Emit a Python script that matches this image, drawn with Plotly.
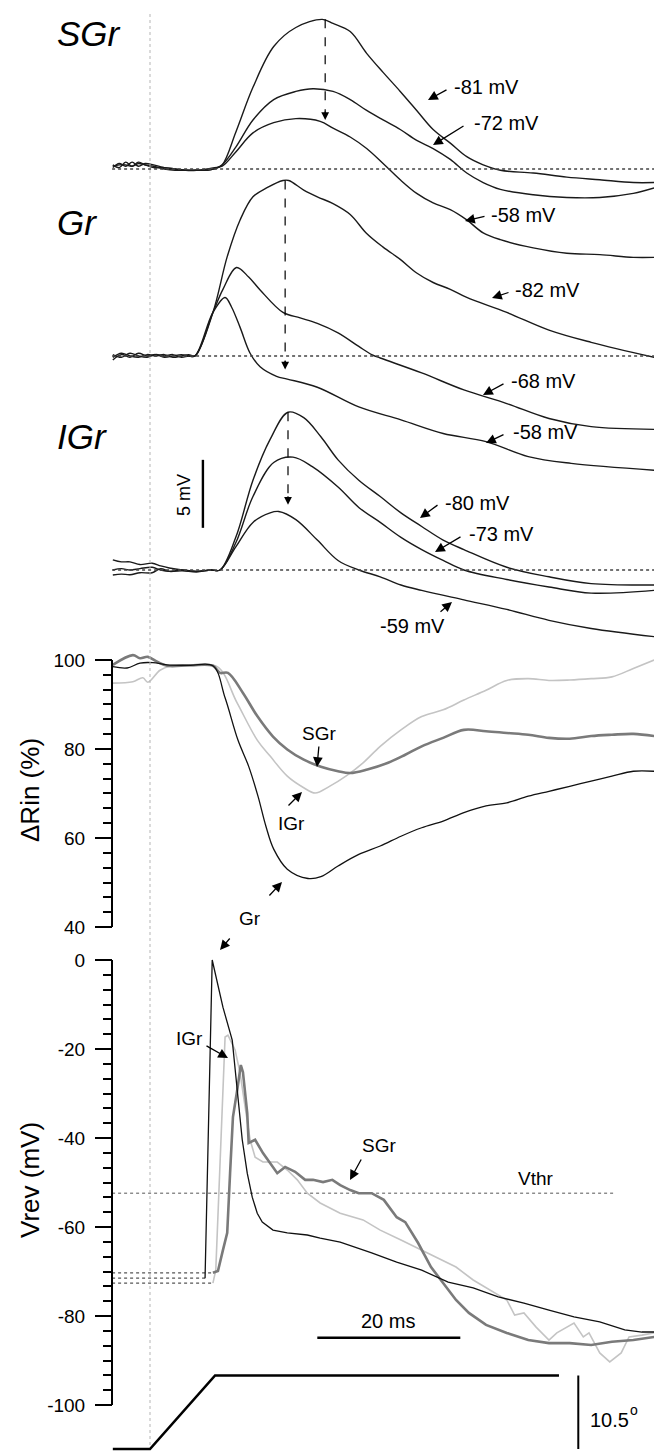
import plotly.graph_objects as go

W, H = 654, 1452
FONT = "Liberation Sans, Arial, Helvetica, sans-serif"

# ---------------- DATA ----------------
# time in ms relative to stimulus onset; potentials in mV relative to baseline
PRE_T = [-5.2, -4.3, -3.4, -2.5, -1.6, -0.7, 0.5, 2.0, 3.5, 5.0, 6.5, 8.0, 9.0]

sgr81_t = PRE_T + [10.1, 12.0, 14.4, 17.3, 20.4, 24.1, 25.6, 28.0, 30.3, 32.6, 35.0, 37.3, 39.6, 42.0, 44.3, 46.6, 49.0, 53.6, 58.3, 62.9, 67.6, 70.5]
sgr81_v = [0.3, 0.1, 0.5, 0.2, 0.4, 0.3, 0.2, 0.0, -0.1, -0.1, -0.1, -0.1, 0.0,
           0.3, 2.7, 6.0, 9.0, 10.4, 11.0, 10.7, 10.1, 8.5, 7.1, 5.7, 4.3, 2.9, 1.9, 0.9, 0.3, -0.1, -0.3, -0.6, -0.8, -1.0, -1.0]
sgr72_t = PRE_T + [10.1, 12.0, 14.4, 17.3, 20.4, 22.8, 25.6, 28.0, 30.3, 32.6, 35.0, 37.3, 39.6, 42.0, 44.3, 46.6, 49.0, 53.6, 58.3, 62.9, 67.6, 70.5]
sgr72_v = [0.1, 0.4, 0.2, 0.5, 0.2, 0.4, 0.3, 0.1, 0.0, -0.1, -0.1, -0.1, 0.0,
           0.3, 1.6, 3.6, 5.1, 5.7, 5.9, 5.7, 5.1, 4.3, 3.6, 2.9, 2.1, 1.5, 0.7, -0.3, -1.0, -1.5, -1.9, -2.1, -2.1, -1.8, -1.4]
sgr58_t = PRE_T + [10.1, 12.0, 14.4, 17.3, 20.4, 23.8, 25.6, 28.0, 30.3, 32.6, 35.0, 37.3, 39.6, 42.0, 44.3, 46.6, 49.0, 53.6, 58.3, 62.9, 67.6, 70.5]
sgr58_v = [0.2, 0.3, 0.3, 0.2, 0.5, 0.3, 0.1, 0.1, 0.0, -0.1, -0.1, 0.0, 0.1,
           0.2, 1.25, 2.65, 3.4, 3.7, 3.5, 3.0, 2.35, 1.5, 0.4, -0.8, -1.8, -2.5, -3.0, -3.75, -4.7, -5.2, -5.8, -6.2, -6.3, -6.5, -6.5]

GR_PRE_T = [-5.2, -4.0, -2.8, -1.6, -0.4, 0.8, 2.0, 3.2, 4.4, 5.4, 6.3]
gr82_t = GR_PRE_T + [8.8, 10.8, 12.6, 14.4, 16.3, 18.6, 19.4, 21.5, 23.4, 25.6, 28.0, 30.3, 32.6, 35.0, 37.3, 39.6, 42.0, 44.3, 49.9, 55.8, 61.7, 70.5]
gr82_v = [-0.3, 0.1, -0.1, 0.2, 0.0, 0.1, -0.1, 0.0, 0.1, 0.0, 0.0,
          3.2, 7.3, 10.0, 11.7, 12.35, 12.9, 12.9, 12.2, 11.7, 11.2, 10.4, 9.0, 8.0, 7.1, 6.1, 5.4, 4.9, 4.3, 3.2, 1.9, 1.0, -0.1]
gr68_t = GR_PRE_T + [8.8, 10.2, 12.1, 13.8, 15.4, 18.6, 21.0, 23.4, 26.3, 29.2, 31.0, 32.2, 38.0, 43.9, 49.9, 55.8, 61.7, 70.5]
gr68_v = [-0.1, 0.2, 0.0, -0.1, 0.1, 0.0, 0.1, -0.1, 0.0, 0.1, 0.0,
          3.2, 4.9, 6.5, 5.8, 4.85, 3.2, 2.8, 2.4, 1.7, 0.7, 0.1, -0.15, -1.25, -2.5, -3.5, -4.6, -5.2, -5.4]
gr58_t = GR_PRE_T + [8.8, 10.5, 11.4, 12.6, 14.0, 15.4, 17.7, 19.2, 23.4, 29.2, 35.1, 41.0, 47.0, 52.9, 58.9, 70.5]
gr58_v = [0.1, -0.1, 0.2, 0.0, -0.1, 0.1, 0.0, 0.1, -0.1, 0.0, 0.0,
          3.2, 4.3, 3.6, 2.1, 0.2, -0.8, -1.5, -1.7, -2.3, -3.75, -4.7, -5.7, -6.3, -7.4, -7.9, -8.4]

IGR_PRE_T = [-5.2, -4.0, -2.8, -1.4, 0.3, 1.5, 2.7, 4.5, 6.5, 8.5, 9.8]
igr80_t = IGR_PRE_T + [12.0, 14.4, 16.8, 19.3, 21.5, 23.9, 26.3, 29.2, 32.2, 35.1, 38.0, 41.0, 43.9, 49.9, 55.8, 61.7, 70.5]
igr80_v = [0.75, 0.6, 0.6, 0.4, 0.5, 0.3, 0.15, 0.0, -0.1, 0.0, 0.0,
           2.4, 6.6, 9.6, 11.6, 11.2, 9.8, 8.1, 6.6, 5.4, 4.2, 3.2, 2.2, 1.5, 0.2, -0.5, -1.0, -1.1]
igr73_t = IGR_PRE_T + [12.0, 14.4, 17.3, 20.0, 22.7, 26.3, 29.2, 32.2, 35.1, 38.0, 41.0, 43.9, 49.9, 55.8, 61.7, 70.5]
igr73_v = [0.0, 0.1, 0.0, 0.1, 0.2, 0.0, -0.1, 0.0, -0.1, 0.0, 0.0,
           2.0, 5.4, 7.9, 8.3, 7.6, 6.1, 4.6, 3.5, 2.4, 1.5, 0.7, 0.0, -0.7, -1.25, -1.7, -1.5]
igr59_t = IGR_PRE_T + [12.0, 14.4, 16.8, 18.0, 20.4, 23.4, 26.3, 29.2, 32.2, 35.1, 38.0, 43.9, 49.9, 55.8, 61.7, 70.5]
igr59_v = [-0.37, -0.3, -0.35, -0.2, -0.2, 0.1, -0.1, -0.05, -0.15, 0.0, 0.0,
           1.7, 3.5, 4.2, 4.3, 3.7, 2.2, 0.7, 0.0, -0.5, -1.1, -1.5, -2.2, -2.9, -3.7, -4.3, -4.9]

# Delta Rin (%)
rin_gr_t = [-5.2, -3.2, -1.4, 0.4, 2.4, 5.6, 8.8, 10.5, 12.3, 13.8, 15.1, 16.2, 17.3, 19.2, 22.1, 23.9, 26.3, 29.2, 32.2, 35.1, 38.0, 41.0, 43.9, 47.0, 49.9, 52.9, 55.8, 58.7, 61.7, 64.6, 67.6, 70.5]
rin_gr_v = [98.5, 98.2, 99.3, 99.4, 98.9, 98.8, 98.7, 91.5, 82.0, 76.1, 69.4, 62.7, 57.5, 53.0, 50.9, 51.3, 53.7, 56.3, 58.2, 60.4, 62.3, 63.8, 65.7, 67.2, 67.9, 69.4, 70.5, 71.6, 72.8, 73.9, 75.0, 75.0]
rin_sgr_t = [-5.2, -2.4, -1.4, -0.3, 1.0, 2.4, 5.6, 8.8, 9.8, 10.9, 13.0, 15.0, 17.2, 19.2, 21.5, 23.9, 26.3, 28.0, 30.4, 33.3, 35.7, 38.0, 41.0, 43.9, 47.0, 49.9, 52.9, 55.8, 58.7, 61.7, 64.6, 67.6, 70.5]
rin_sgr_v = [98.9, 101.1, 100.4, 100.7, 99.6, 98.7, 98.8, 98.7, 97.1, 97.1, 92.6, 87.4, 82.8, 79.9, 77.6, 76.0, 75.0, 74.6, 75.4, 76.9, 78.7, 80.6, 82.5, 84.3, 84.0, 83.6, 83.2, 82.5, 82.3, 82.9, 83.2, 83.4, 82.9]
rin_igr_t = [-5.2, -2.4, -1.0, -0.3, 1.4, 2.8, 5.6, 9.4, 12.2, 15.0, 16.8, 19.2, 21.5, 23.1, 25.1, 27.4, 29.8, 32.2, 35.1, 38.0, 41.0, 43.9, 47.0, 49.9, 52.9, 55.8, 58.7, 61.7, 64.6, 67.6, 70.5]
rin_igr_v = [94.8, 95.1, 96.0, 95.0, 97.7, 98.6, 98.7, 98.5, 90.3, 82.0, 78.4, 73.9, 71.3, 70.1, 71.6, 73.9, 76.9, 80.6, 84.3, 87.3, 88.8, 91.0, 93.2, 95.4, 95.8, 95.4, 95.5, 95.8, 96.2, 98.1, 100.0]

# Vrev (mV)
vrev_gr_t = [7.7, 8.7, 10.2, 11.5, 12.2, 12.9, 13.6, 14.3, 15.0, 15.7, 17.2, 19.2, 22.0, 23.8, 26.6, 31.0, 34.5, 38.0, 41.7, 45.2, 48.7, 52.3, 55.8, 59.3, 62.9, 66.4, 68.8, 70.5]
vrev_gr_v = [-71.5, 0.0, -10.6, -18.0, -29.2, -40.4, -47.9, -53.3, -56.9, -58.9, -60.7, -61.3, -61.8, -62.5, -63.4, -65.8, -67.9, -69.7, -72.4, -73.7, -75.7, -77.1, -78.7, -80.2, -81.3, -83.1, -83.6, -83.6]
vrev_igr_t = [8.8, 9.2, 10.5, 10.9, 11.9, 12.6, 13.3, 14.0, 14.7, 15.8, 17.8, 19.2, 20.6, 22.0, 23.8, 26.6, 29.8, 32.2, 35.1, 38.0, 40.4, 42.8, 45.2, 47.6, 49.9, 51.0, 52.3, 54.0, 55.8, 56.9, 59.3, 60.6, 61.4, 62.9, 64.3, 65.9, 67.0, 68.8, 70.5]
vrev_igr_v = [-72.6, -69.7, -17.3, -16.9, -20.2, -25.4, -33.0, -40.4, -44.3, -45.4, -45.4, -47.2, -49.4, -52.4, -54.6, -56.9, -58.4, -60.7, -62.9, -65.2, -67.0, -69.0, -71.9, -74.2, -76.4, -79.8, -79.3, -82.5, -85.4, -83.8, -81.6, -84.7, -83.8, -88.3, -90.3, -88.3, -84.7, -84.3, -83.8]
vrev_sgr_t = [8.8, 9.5, 10.2, 10.8, 11.2, 11.6, 12.2, 12.7, 13.0, 13.6, 13.8, 14.7, 15.8, 17.8, 18.9, 20.3, 21.7, 22.8, 24.2, 25.5, 26.6, 28.0, 29.2, 31.0, 32.7, 34.5, 35.7, 37.5, 39.3, 41.0, 42.8, 44.6, 47.0, 49.9, 52.9, 55.8, 58.7, 61.7, 64.6, 67.6, 70.5]
vrev_sgr_v = [-70.3, -69.9, -65.2, -61.3, -47.9, -35.3, -29.2, -23.6, -25.2, -34.4, -41.1, -40.4, -43.4, -47.9, -46.5, -47.6, -49.4, -49.4, -49.9, -49.4, -50.6, -51.7, -52.4, -52.4, -53.9, -57.8, -58.9, -63.6, -69.0, -72.6, -76.4, -79.3, -82.0, -83.8, -85.4, -86.1, -86.1, -86.5, -85.8, -85.4, -84.7]
VREST = {"Gr": -71.5, "SGr": -70.3, "IGr": -72.6}
VTHR = -52.4

# stimulus (deg)
stim_t = [-5.2, 0.0, 9.1, 57.2]
stim_deg = [0.0, 0.0, 10.5, 10.5]

RIN_TICKS = [40, 60, 80, 100]
RIN_MINOR = [43.33, 46.67, 50, 53.33, 56.67, 63.33, 66.67, 70, 73.33, 76.67, 83.33, 86.67, 90, 93.33, 96.67]
VREV_TICKS = [-100, -80, -60, -40, -20, 0]
VREV_TICKTEXT = ["-100", "-80", "-60", "-40", "-20", "0"]
VREV_MINOR = [-96.67, -93.33, -90, -86.67, -83.33, -76.67, -73.33, -70, -66.67, -63.33, -56.67, -53.33, -50,
              -46.67, -43.33, -36.67, -33.33, -30, -26.67, -23.33, -16.67, -13.33, -10, -6.67, -3.33]

# ---------------- LAYOUT CONSTANTS ----------------
OFF = {"SGr": 29.49, "Gr": 15.74, "IGr": 0.0}   # vertical stacking of the voltage groups
T0, T1 = -150 / 7.15, 504 / 7.15
AX_X = 112 / W

fig = go.Figure()


def line(t, v, yax, color="black", width=1.3, shape="linear", dash=None):
    fig.add_trace(go.Scatter(x=t, y=v, xaxis="x", yaxis=yax, mode="lines",
                             line=dict(color=color, width=width, shape=shape, dash=dash),
                             hoverinfo="skip", showlegend=False))


for grp, series in [("SGr", [(sgr81_t, sgr81_v), (sgr72_t, sgr72_v), (sgr58_t, sgr58_v)]),
                    ("Gr", [(gr82_t, gr82_v), (gr68_t, gr68_v), (gr58_t, gr58_v)]),
                    ("IGr", [(igr80_t, igr80_v), (igr73_t, igr73_v), (igr59_t, igr59_v)])]:
    for t, v in series:
        line(t, [OFF[grp] + x for x in v], "y", color="#1a1a1a", width=1.4, shape="spline")

line(rin_igr_t, rin_igr_v, "y2", color="#c4c4c4", width=1.6, shape="spline")
line(rin_sgr_t, rin_sgr_v, "y2", color="#7a7a7a", width=2.6, shape="spline")
line(rin_gr_t, rin_gr_v, "y2", color="#111111", width=1.3, shape="spline")

# resting-level dotted lines of Vrev
for grp, tt in [("SGr", vrev_sgr_t[0]), ("Gr", vrev_gr_t[0]), ("IGr", vrev_igr_t[0])]:
    line([-5.3, tt], [VREST[grp], VREST[grp]], "y3", color="#555555", width=1.2, dash="dot")
line([-5.3, 64.9], [VTHR, VTHR], "y3", color="#555555", width=1.0, dash="dot")

line(vrev_igr_t, vrev_igr_v, "y3", color="#c4c4c4", width=1.6)
line(vrev_sgr_t, vrev_sgr_v, "y3", color="#7a7a7a", width=2.6)
line(vrev_gr_t, vrev_gr_v, "y3", color="#111111", width=1.3)

line(stim_t, stim_deg, "y4", color="black", width=2.6)

shapes = []
# stimulus-onset reference line
shapes.append(dict(type="line", xref="x", yref="paper", x0=0, x1=0, y0=1 - 1445 / H, y1=1 - 12 / H,
                   line=dict(color="#b5b5b5", width=1, dash="dot")))
# baselines of voltage traces
for grp in OFF:
    shapes.append(dict(type="line", xref="x", yref="y", x0=-5.3, x1=T1, y0=OFF[grp], y1=OFF[grp],
                       line=dict(color="#444444", width=1.4, dash="dot")))
# dashed arrows (peak -> smallest trace)
DASH_ARROWS = [("SGr", 24.5, 11.0, 3.6), ("Gr", 18.9, 12.9, -1.0), ("IGr", 19.3, 11.6, 4.8)]
for grp, t, vtop, vbot in DASH_ARROWS:
    shapes.append(dict(type="line", xref="x", yref="y", x0=t, x1=t, y0=OFF[grp] + vtop, y1=OFF[grp] + vbot + 0.3,
                       line=dict(color="black", width=1.2, dash="dash")))
# axis spines
shapes.append(dict(type="line", xref="paper", yref="y2", x0=AX_X, x1=AX_X, y0=40, y1=100,
                   line=dict(color="black", width=2)))
shapes.append(dict(type="line", xref="paper", yref="y3", x0=AX_X, x1=AX_X, y0=-100, y1=0,
                   line=dict(color="black", width=2)))
# scale bars
shapes.append(dict(type="line", xref="x", yref="y3", x0=23.4, x1=43.4, y0=-84.9, y1=-84.9,
                   line=dict(color="black", width=2.6)))
shapes.append(dict(type="line", xref="x", yref="y", x0=7.4, x1=7.4, y0=3.1, y1=8.1,
                   line=dict(color="black", width=2.4)))
shapes.append(dict(type="line", xref="x", yref="y4", x0=59.9, x1=59.9, y0=0, y1=10.5,
                   line=dict(color="black", width=2.0)))

ann = []


def P(px, py):
    return px / W, 1 - py / H


def text(px, py, s, size=19, xanchor="left", italic=False, angle=0):
    x, y = P(px, py)
    ann.append(dict(x=x, y=y, xref="paper", yref="paper", text=s, showarrow=False,
                    xanchor=xanchor, yanchor="middle", textangle=angle,
                    font=dict(family=FONT, size=size, color="black",
                              style="italic" if italic else "normal")))


def arrow(tip, tail):
    x, y = P(*tip)
    ann.append(dict(x=x, y=y, xref="paper", yref="paper", text="", showarrow=True,
                    ax=tail[0] - tip[0], ay=tail[1] - tip[1], arrowhead=2, arrowsize=1.5,
                    arrowwidth=1.3, arrowcolor="black", standoff=0, startstandoff=0))


# group labels
text(55, 34, "SGr", 35, italic=True)
text(55, 222, "Gr", 35, italic=True)
text(55, 436, "IGr", 35, italic=True)

# holding-potential labels
for lab, lx, ly, tip, tail in [
    ("-81 mV", 452, 87, (428, 100), (448, 89)),
    ("-72 mV", 472, 123, (433, 145), (465, 125)),
    ("-58 mV", 489, 215, (465, 221), (486, 216)),
    ("-82 mV", 513, 290, (492, 298), (510, 292)),
    ("-68 mV", 509, 381, (483, 395), (505, 383)),
    ("-58 mV", 511, 432, (486, 443), (505, 434)),
    ("-80 mV", 443, 503, (420, 518), (439, 504)),
    ("-73 mV", 467, 534, (435, 552), (462, 536)),
    ("-59 mV", 378, 626, (452, 602), (439, 613)),
]:
    text(lx, ly, lab, 20)
    arrow(tip, tail)

# dashed-arrow heads
for grp, t, vtop, vbot in DASH_ARROWS:
    ann.append(dict(x=t, y=OFF[grp] + vbot, xref="x", yref="y", text="", showarrow=True, ax=0, ay=-10,
                    arrowhead=2, arrowsize=1.3, arrowwidth=1.2, arrowcolor="black", standoff=0))

# Delta Rin labels
text(319, 733, "SGr", 19, xanchor="center"); arrow((317, 767), (319, 745))
text(291, 823, "IGr", 19, xanchor="center"); arrow((302, 792), (287, 807))
text(250, 918, "Gr", 19, xanchor="center"); arrow((282, 882), (268, 897)); arrow((220, 950), (231, 937))
# Vrev labels
text(189, 1038, "IGr", 19, xanchor="center"); arrow((228, 1058), (205, 1045))
text(379, 1145, "SGr", 19, xanchor="center"); arrow((350, 1180), (362, 1158))
text(536, 1178, "Vthr", 19, xanchor="center")

# axis titles
text(30, 790, "\u0394Rin (%)", 26, xanchor="center", angle=-90)
text(30, 1180, "Vrev (mV)", 26, xanchor="center", angle=-90)

# scale-bar labels
text(184, 495, "5 mV", 18, xanchor="center", angle=-90)
text(388, 1321, "20 ms", 20, xanchor="center")
text(588, 1420, "10.5", 20)
text(628, 1410, "o", 14)

axis_common = dict(anchor="free", position=AX_X, side="left", showline=False, showgrid=False, zeroline=False,
                   ticks="outside", ticklen=17, tickwidth=2, tickcolor="black",
                   tickfont=dict(family=FONT, size=19, color="black"), ticklabelstandoff=6)

fig.update_layout(
    width=W, height=H, autosize=False,
    margin=dict(l=0, r=0, t=0, b=0, pad=0),
    paper_bgcolor="white", plot_bgcolor="rgba(0,0,0,0)",
    showlegend=False,
    xaxis=dict(domain=[0, 1], range=[T0, T1], visible=False, fixedrange=True),
    yaxis=dict(domain=[1 - 650 / H, 1], range=[-5.882, 41.912], visible=False),
    yaxis2=dict(domain=[1 - 940 / H, 1 - 640 / H], range=[37.08, 104.49], tickvals=RIN_TICKS,
                ticktext=[str(v) for v in RIN_TICKS],
                minor=dict(tickvals=RIN_MINOR, ticks="outside", ticklen=9, tickwidth=2, tickcolor="black", showgrid=False),
                **axis_common),
    yaxis3=dict(domain=[1 - 1420 / H, 1 - 945 / H], range=[-103.37, 3.37], tickvals=VREV_TICKS,
                ticktext=VREV_TICKTEXT,
                minor=dict(tickvals=VREV_MINOR, ticks="outside", ticklen=9, tickwidth=2, tickcolor="black", showgrid=False),
                **axis_common),
    yaxis4=dict(domain=[0, 92 / H], range=[-0.4286, 12.714], visible=False),
    shapes=shapes,
    annotations=ann,
)

fig.write_html("out.html")
